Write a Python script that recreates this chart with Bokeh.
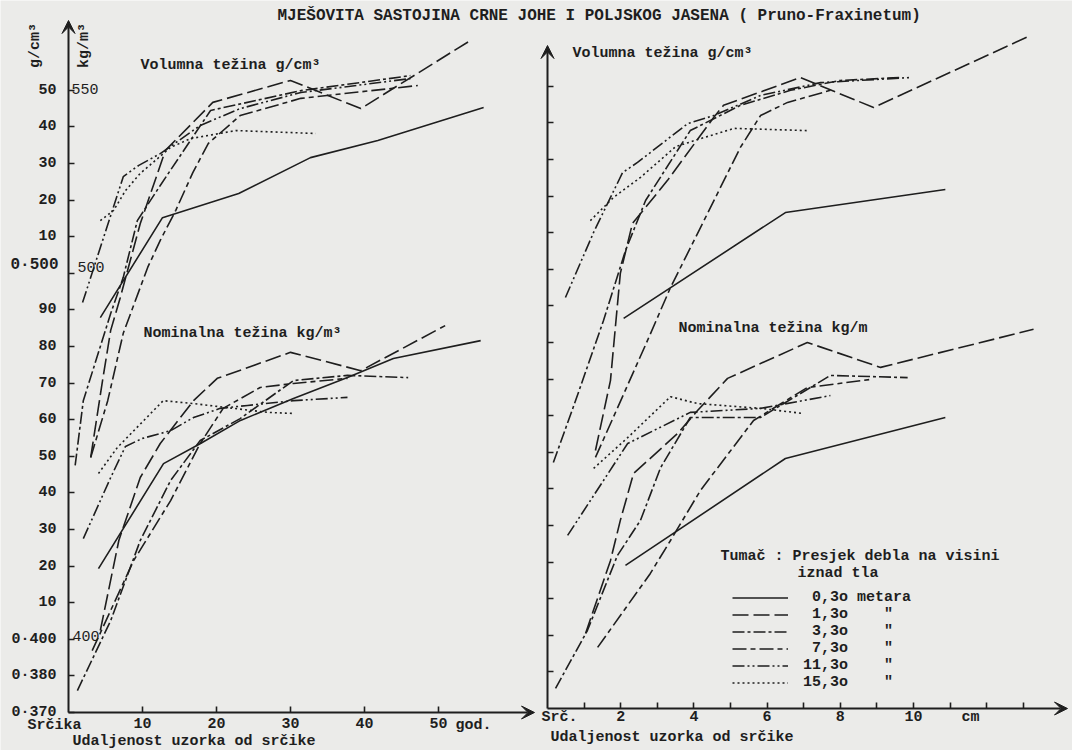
import math
from bokeh.plotting import figure
from bokeh.models import (Range1d, FixedTicker, Label, Arrow, VeeHead, Legend, LegendItem,
                          LinearAxis)
from bokeh.embed import file_html
from bokeh.resources import INLINE

FONT = "Liberation Mono"
INK = "#1e1e1e"
PAPER = "#ebebe9"

# ---------------- data ----------------
HEIGHTS = ["0,3o", "1,3o", "3,3o", "7,3o", "11,3o", "15,3o"]
DASHES = ["solid", "16 5", "12 3 3 3", "14 4 5 4", "12 3 2 3 2 3", "2 3"]

# left panel: age (god.) vs weight (kg/m3 ; 0.xxx g/cm3) -- volumna tezina
LV_030_X = [4.3, 12.7, 23.0, 32.7, 41.8, 56.1]
LV_030_Y = [487.9, 515.2, 521.8, 531.6, 536.3, 545.3]
LV_130_X = [3.0, 4.6, 5.7, 7.0, 9.7, 13.1, 19.5, 30.0, 39.5, 54.3]
LV_130_Y = [449.7, 470.7, 484.4, 493.4, 513.6, 533.6, 546.7, 552.7, 545.0, 563.6]
LV_330_X = [0.9, 2.0, 5.7, 7.4, 9.3, 12.4, 19.2, 31.4, 46.2]
LV_330_Y = [447.5, 465.2, 489.0, 498.9, 514.4, 524.0, 544.5, 549.9, 554.0]
LV_730_X = [3.0, 5.3, 7.4, 10.7, 12.4, 14.5, 16.8, 18.9, 23.2, 31.4, 47.2]
LV_730_Y = [449.7, 465.2, 483.6, 501.6, 509.0, 517.2, 527.5, 535.5, 543.1, 547.8, 551.3]
LV_1130_X = [1.9, 7.4, 9.5, 12.4, 17.8, 23.2, 31.4, 46.2]
LV_1130_Y = [492.0, 526.4, 529.5, 532.7, 540.4, 545.0, 549.4, 553.2]
LV_1530_X = [4.3, 6.1, 7.7, 9.7, 13.8, 16.5, 22.6, 33.4]
LV_1530_Y = [514.4, 517.2, 522.6, 527.3, 534.4, 536.8, 539.0, 538.2]

# left panel -- nominalna tezina
LN_030_X = [4.05, 12.84, 17.84, 23.24, 30.4, 37.7, 43.9, 55.7]
LN_030_Y = [419.3, 448.0, 453.5, 459.8, 465.8, 471.5, 476.7, 481.6]
LN_130_X = [4.3, 6.8, 9.7, 12.4, 16.9, 20.1, 30.0, 39.5, 50.9]
LN_130_Y = [402.4, 427.0, 444.2, 453.5, 465.2, 471.3, 478.4, 473.4, 485.7]
LN_330_X = [1.2, 5.7, 9.7, 13.8, 17.8, 23.2, 30.4, 37.7, 45.9]
LN_330_Y = [386.0, 405.1, 427.0, 443.4, 454.3, 460.3, 470.7, 472.1, 471.5]
LN_730_X = [3.2, 8.8, 13.8, 17.8, 20.9, 25.9, 30.4, 37.7]
LN_730_Y = [396.9, 421.5, 437.9, 453.5, 463.1, 468.8, 469.9, 471.3]
LN_1130_X = [2.0, 5.7, 7.7, 10.0, 13.8, 16.9, 20.5, 24.2, 30.4, 37.7]
LN_1130_Y = [427.5, 444.2, 452.7, 454.9, 457.0, 460.6, 463.1, 463.9, 465.2, 466.1]
LN_1530_X = [4.05, 6.6, 12.8, 16.9, 22.3, 26.9, 30.4]
LN_1530_Y = [445.3, 452.4, 465.2, 464.4, 463.1, 462.0, 461.7]

# right panel: distance from pith (cm) vs weight -- volumna tezina
RV_030_X = [2.08, 6.5, 10.87]
RV_030_Y = [486.6, 515.5, 521.8]
RV_130_X = [1.31, 1.72, 1.99, 2.32, 3.28, 4.54, 4.81, 6.91, 8.91, 13.2]
RV_130_Y = [450.5, 469.6, 498.9, 512.5, 524.3, 541.5, 544.8, 552.4, 544.2, 563.9]
RV_330_X = [0.16, 0.77, 1.53, 2.13, 2.68, 3.9, 5.27, 6.64, 8.0, 9.64]
RV_330_Y = [447.2, 464.2, 486.0, 505.1, 518.8, 537.9, 544.8, 548.9, 551.6, 552.4]
RV_730_X = [1.31, 2.73, 3.36, 4.18, 5.27, 5.82, 6.56, 7.73]
RV_730_Y = [448.6, 480.5, 495.0, 511.4, 533.3, 542.0, 545.6, 548.9]
RV_1130_X = [0.49, 1.26, 2.05, 2.46, 3.83, 4.54, 5.82, 7.46, 9.92]
RV_1130_Y = [492.3, 510.1, 526.4, 529.2, 539.8, 542.0, 547.5, 551.0, 552.4]
RV_1530_X = [1.17, 1.8, 2.54, 3.5, 4.18, 5.1, 7.08]
RV_1530_Y = [513.3, 519.6, 525.1, 533.5, 535.7, 538.5, 537.9]

# right panel -- nominalna tezina
RN_030_X = [2.13, 6.5, 10.87]
RN_030_Y = [419.1, 448.3, 459.5]
RN_130_X = [1.04, 1.72, 1.99, 2.35, 3.55, 4.1, 4.92, 7.1, 9.1, 13.28]
RN_130_Y = [400.5, 420.4, 431.4, 444.2, 455.1, 461.4, 470.2, 480.0, 473.2, 483.6]
RN_330_X = [0.22, 1.09, 1.91, 2.54, 3.09, 3.9, 5.82, 7.73, 9.84]
RN_330_Y = [385.5, 401.3, 421.8, 431.4, 445.8, 459.5, 459.5, 471.0, 470.4]
RN_730_X = [1.37, 2.81, 3.36, 4.18, 5.63, 7.1, 8.83]
RN_730_Y = [396.7, 416.9, 425.9, 439.6, 458.7, 467.7, 469.9]
RN_1130_X = [0.55, 2.19, 3.9, 5.82, 7.73]
RN_1130_Y = [427.3, 452.4, 460.9, 462.0, 465.5]
RN_1530_X = [1.26, 2.19, 3.36, 4.1, 5.82, 6.99]
RN_1530_Y = [445.6, 454.0, 465.2, 463.3, 462.0, 460.6]

LEFT_VOL = [(LV_030_X, LV_030_Y), (LV_130_X, LV_130_Y), (LV_330_X, LV_330_Y),
            (LV_730_X, LV_730_Y), (LV_1130_X, LV_1130_Y), (LV_1530_X, LV_1530_Y)]
LEFT_NOM = [(LN_030_X, LN_030_Y), (LN_130_X, LN_130_Y), (LN_330_X, LN_330_Y),
            (LN_730_X, LN_730_Y), (LN_1130_X, LN_1130_Y), (LN_1530_X, LN_1530_Y)]
RIGHT_VOL = [(RV_030_X, RV_030_Y), (RV_130_X, RV_130_Y), (RV_330_X, RV_330_Y),
             (RV_730_X, RV_730_Y), (RV_1130_X, RV_1130_Y), (RV_1530_X, RV_1530_Y)]
RIGHT_NOM = [(RN_030_X, RN_030_Y), (RN_130_X, RN_130_Y), (RN_330_X, RN_330_Y),
             (RN_730_X, RN_730_Y), (RN_1130_X, RN_1130_Y), (RN_1530_X, RN_1530_Y)]

Y_TICKS = list(range(380, 551, 10))
Y_TICK_LABELS = {550: "50", 540: "40", 530: "30", 520: "20", 510: "10", 500: "",
                 490: "90", 480: "80", 470: "70", 460: "60", 450: "50", 440: "40",
                 430: "30", 420: "20", 410: "10", 400: "0·400", 390: "0·380", 380: "0·370"}
LEFT_X_TICKS = [10, 20, 30, 40, 50]
RIGHT_X_TICKS = list(range(1, 14))
RIGHT_X_LABELS = {t: (str(t) if t in (2, 4, 6, 8, 10) else "") for t in RIGHT_X_TICKS}

# ---------------- geometry (page px) ----------------
PX_YR = 7.4      # px per year
PX_CM = 36.6     # px per cm
PX_KG = 3.66     # px per kg/m3
L_AX_X, L_AX_Y = 68, 712
R_AX_X, R_AX_Y = 547, 708
C_LEFT, C_TOP, C_RIGHT, C_BOTTOM = 0, 0, 1072, 750


def Lx(px): return (px - L_AX_X) / PX_YR
def Ly(py): return 380 + (L_AX_Y - py) / PX_KG
def Rx(px): return (px - R_AX_X) / PX_CM
def Ry(py): return 380 + (R_AX_Y - py) / PX_KG


p = figure(width=C_RIGHT - C_LEFT, height=C_BOTTOM - C_TOP,
           x_range=Range1d(Lx(C_LEFT), Lx(C_RIGHT)),
           y_range=Range1d(Ly(C_BOTTOM), Ly(C_TOP)),
           output_backend="svg", toolbar_location=None,
           min_border_left=0, min_border_right=0, min_border_top=0, min_border_bottom=0)
p.extra_x_ranges = {"cm": Range1d(Rx(C_LEFT), Rx(C_RIGHT))}
p.extra_y_ranges = {"r": Range1d(Ry(C_BOTTOM), Ry(C_TOP))}
p.grid.visible = False
p.outline_line_color = None
p.background_fill_color = PAPER
p.border_fill_color = PAPER


def style_axis(ax, size="15px"):
    ax.axis_line_color = None
    ax.major_tick_in = 6
    ax.major_tick_out = 0
    ax.minor_tick_line_color = None
    ax.major_tick_line_width = 1.6
    ax.major_tick_line_color = INK
    ax.major_label_text_font = FONT
    ax.major_label_text_font_size = size
    ax.major_label_text_font_style = "bold"
    ax.major_label_text_color = INK


# left panel axes (fixed inside the frame)
lx_axis = p.xaxis[0]
lx_axis.fixed_location = 380
style_axis(lx_axis)
lx_axis.ticker = FixedTicker(ticks=LEFT_X_TICKS)
lx_axis.major_label_standoff = 5

ly_axis = p.yaxis[0]
ly_axis.fixed_location = 0
style_axis(ly_axis)
ly_axis.ticker = FixedTicker(ticks=Y_TICKS)
ly_axis.major_label_overrides = Y_TICK_LABELS
ly_axis.major_label_standoff = 12

# right panel axes
rx_axis = LinearAxis(x_range_name="cm", y_range_name="r", fixed_location=380)
style_axis(rx_axis)
rx_axis.ticker = FixedTicker(ticks=RIGHT_X_TICKS)
rx_axis.major_label_overrides = RIGHT_X_LABELS
rx_axis.major_label_standoff = 2
p.add_layout(rx_axis, "below")

ry_axis = LinearAxis(x_range_name="cm", y_range_name="r", fixed_location=0)
style_axis(ry_axis)
ry_axis.ticker = FixedTicker(ticks=Y_TICKS[1:])
ry_axis.major_label_overrides = {t: "" for t in Y_TICKS}
p.add_layout(ry_axis, "left")


def draw_series(series, **ranges):
    rs = []
    for (xs, ys), dash in zip(series, DASHES):
        rs.append(p.line(xs, ys, line_color=INK, line_width=1.6, line_dash=dash, **ranges))
    return rs


draw_series(LEFT_VOL)
draw_series(LEFT_NOM)
rv = draw_series(RIGHT_VOL, x_range_name="cm", y_range_name="r")
draw_series(RIGHT_NOM, x_range_name="cm", y_range_name="r")


def arrow(x0, y0, x1, y1, **ranges):
    p.add_layout(Arrow(end=VeeHead(size=13, fill_color=INK, line_color=INK, line_width=1),
                       x_start=x0, y_start=y0, x_end=x1, y_end=y1,
                       line_width=2, line_color=INK, **ranges))


arrow(0, 380, Lx(534), 380)
arrow(0, 380, 0, Ly(20))
arrow(0, 380, Rx(1067), 380, x_range_name="cm", y_range_name="r")
arrow(0, 380, 0, Ry(45), x_range_name="cm", y_range_name="r")


def label(px, py, text, size="15px", style="bold", align="left", angle=0.0):
    # px, py: page position; converted through the left panel's scales
    p.add_layout(Label(x=Lx(px), y=Ly(py), text=text, text_font=FONT, text_font_size=size,
                       text_font_style=style, text_color=INK, text_align=align,
                       text_baseline="middle", angle=angle))


label(277, 15, "MJEŠOVITA SASTOJINA CRNE JOHE I POLJSKOG JASENA ( Pruno-Fraxinetum)", size="16px")
# left panel texts
label(140, 65, "Volumna težina g/cm³")
label(143, 333, "Nominalna težina kg/m³")
label(35, 45, "g/cm³", align="center", angle=math.pi / 2)
label(84, 45, "kg/m³", align="center", angle=math.pi / 2)
label(71, 88, "550", style="normal")
label(77, 266, "500", style="normal")
label(72, 635, "400", style="normal")
label(58, 264, "0·500", size="16px", align="right")
label(54, 725, "Srčika", align="center")
label(473, 725, "god.", align="center")
label(72, 741, "Udaljenost uzorka od srčike")
# right panel texts
label(572, 53, "Volumna težina g/cm³")
label(678, 328, "Nominalna težina kg/m")
label(541, 717, "Srč.")
label(970, 717, "cm", align="center")
label(550, 737, "Udaljenost uzorka od srčike")
label(720, 556, "Tumač : Presjek debla na visini")
label(797, 573, "iznad tla")

NB = "\u00a0"
legend_labels = []
for h in HEIGHTS:
    pad = NB * (5 - len(h))
    if h == "0,3o":
        legend_labels.append(pad + h + NB + "metara")
    else:
        legend_labels.append(pad + h + NB * 4 + '"')

legend = Legend(items=[LegendItem(label=t, renderers=[r]) for t, r in zip(legend_labels, rv)],
                location=(732 - C_LEFT, C_BOTTOM - 690.5), orientation="vertical",
                glyph_width=56, glyph_height=15, label_height=15, label_width=10,
                label_standoff=15, spacing=0, padding=0, margin=0,
                border_line_color=None, background_fill_alpha=0,
                label_text_font=FONT, label_text_font_size="15px",
                label_text_font_style="bold", label_text_color=INK)
p.add_layout(legend)

open("out.html", "w").write(file_html(p, INLINE))
